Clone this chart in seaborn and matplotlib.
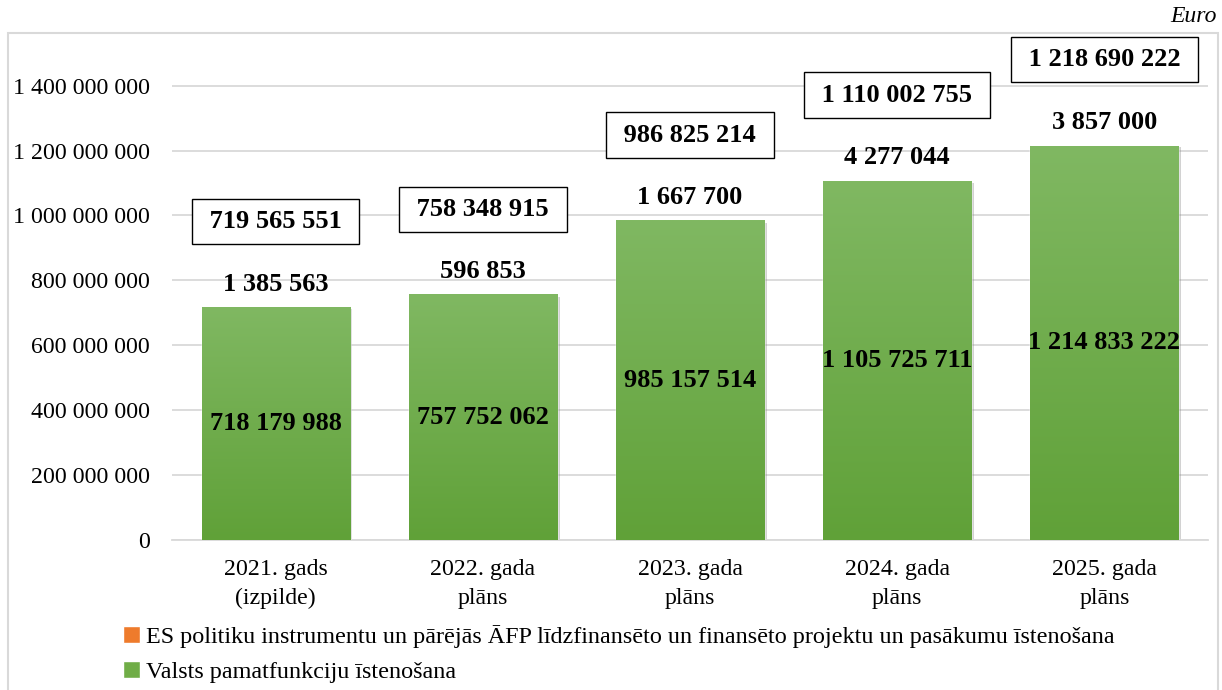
import numpy as np
import pandas as pd
import matplotlib
matplotlib.use("Agg")
import matplotlib.pyplot as plt
import matplotlib.patheffects as pe
from matplotlib.patches import Patch, Rectangle
from matplotlib.ticker import FuncFormatter
import seaborn as sns

categories = ['2021. gads\n(izpilde)', '2022. gada\nplāns', '2023. gada\nplāns',
              '2024. gada\nplāns', '2025. gada\nplāns']
valsts = [718179988, 757752062, 985157514, 1105725711, 1214833222]
es_proj = [1385563, 596853, 1667700, 4277044, 3857000]
kopa = [719565551, 758348915, 986825214, 1110002755, 1218690222]

lbl_es = 'ES politiku instrumentu un pārējās ĀFP līdzfinansēto un finansēto projektu un pasākumu īstenošana'
lbl_valsts = 'Valsts pamatfunkciju īstenošana'

df = pd.DataFrame({'kat': categories, 'valsts': valsts, 'es': es_proj, 'kopa': kopa})

orange = '#EE7B2C'
green_top = '#80B862'
green_bot = '#60A138'
grid_c = '#D9D9D9'

sns.set_style('white')
plt.rcParams['font.family'] = ['Liberation Serif', 'DejaVu Serif']
plt.rcParams['text.color'] = 'black'
plt.rcParams['xtick.color'] = 'black'
plt.rcParams['ytick.color'] = 'black'


def fmt(v):
    return f'{int(v):,}'.replace(',', ' ')


fig = plt.figure(figsize=(12.22, 6.9), dpi=100)
ax = fig.add_axes([172 / 1222, 1 - 540 / 690, 1036 / 1222, 503 / 690])

# full bar (orange) first, green on top of it -> stacked look
sns.barplot(data=df, x='kat', y='kopa', color=orange, saturation=1, width=0.715, ax=ax, zorder=2)
n = len(categories)
for p in ax.patches[:n]:
    p.set_path_effects([pe.SimplePatchShadow(offset=(2, -2), shadow_rgbFace='gray', alpha=0.35),
                        pe.Normal()])
sns.barplot(data=df, x='kat', y='valsts', color=green_top, saturation=1, width=0.715, ax=ax, zorder=3)

# vertical gradient on the green bars
cmap = matplotlib.colors.LinearSegmentedColormap.from_list('g', [green_bot, green_top])
grad = np.linspace(0, 1, 256).reshape(-1, 1)
for p in ax.patches[n:2 * n]:
    x0, y0 = p.get_x(), p.get_y()
    w, h = p.get_width(), p.get_height()
    im = ax.imshow(grad, cmap=cmap, origin='lower', aspect='auto',
                   extent=(x0, x0 + w, y0, y0 + h), zorder=3.5)
    im.set_clip_path(p)

ax.set_xlim(-0.5, n - 0.5)
ax.set_ylim(0, 1.55e9)
ax.set_yticks(np.arange(0, 1.4e9 + 1, 2e8))
ax.yaxis.set_major_formatter(FuncFormatter(lambda v, _: fmt(v)))
ax.grid(axis='y', color=grid_c, linewidth=1.3, zorder=0)
ax.set_axisbelow(True)
for s in ['top', 'right', 'left']:
    ax.spines[s].set_visible(False)
ax.spines['bottom'].set_color(grid_c)
ax.spines['bottom'].set_linewidth(1.3)
ax.tick_params(axis='both', length=0, labelsize=17.2, colors='black')
ax.tick_params(axis='y', pad=16)
ax.tick_params(axis='x', pad=14)
ax.set_xlabel('')
ax.set_ylabel('')
for t in ax.get_xticklabels():
    t.set_linespacing(1.45)

for i in range(n):
    ax.text(i, valsts[i] / 2, fmt(valsts[i]), ha='center', va='center',
            fontsize=19, fontweight='bold', zorder=5)
    ax.annotate(fmt(es_proj[i]), (i, kopa[i]), xytext=(0, 16), textcoords='offset points',
                ha='center', va='center', fontsize=19, fontweight='bold', zorder=5)
    ax.annotate(' ' + fmt(kopa[i]) + ' ', (i, kopa[i]), xytext=(0, 61), textcoords='offset points',
                ha='center', va='center', fontsize=19, fontweight='bold', zorder=6,
                annotation_clip=False,
                bbox=dict(boxstyle='square,pad=0.42', fc='white', ec='black', lw=1))

# legend
handles = [Patch(facecolor=orange, label=lbl_es), Patch(facecolor='#70AD47', label=lbl_valsts)]
fig.legend(handles=handles, loc='upper left', bbox_to_anchor=(123 / 1222, 1 - 625 / 690),
           frameon=False, fontsize=17.4, handlelength=0.72, handleheight=0.72,
           handletextpad=0.25, labelspacing=0.55, borderaxespad=0, borderpad=0)

# chart frame and unit
fig.patches.append(Rectangle((8 / 1222, -0.02), 1210 / 1222, 1 - 33 / 690 + 0.02,
                             transform=fig.transFigure, fill=False, ec=grid_c, lw=1.5))
fig.text(1217 / 1222, 1 - 16 / 690, 'Euro', ha='right', va='center', style='italic', fontsize=17)

fig.savefig('out.png', dpi=100)
